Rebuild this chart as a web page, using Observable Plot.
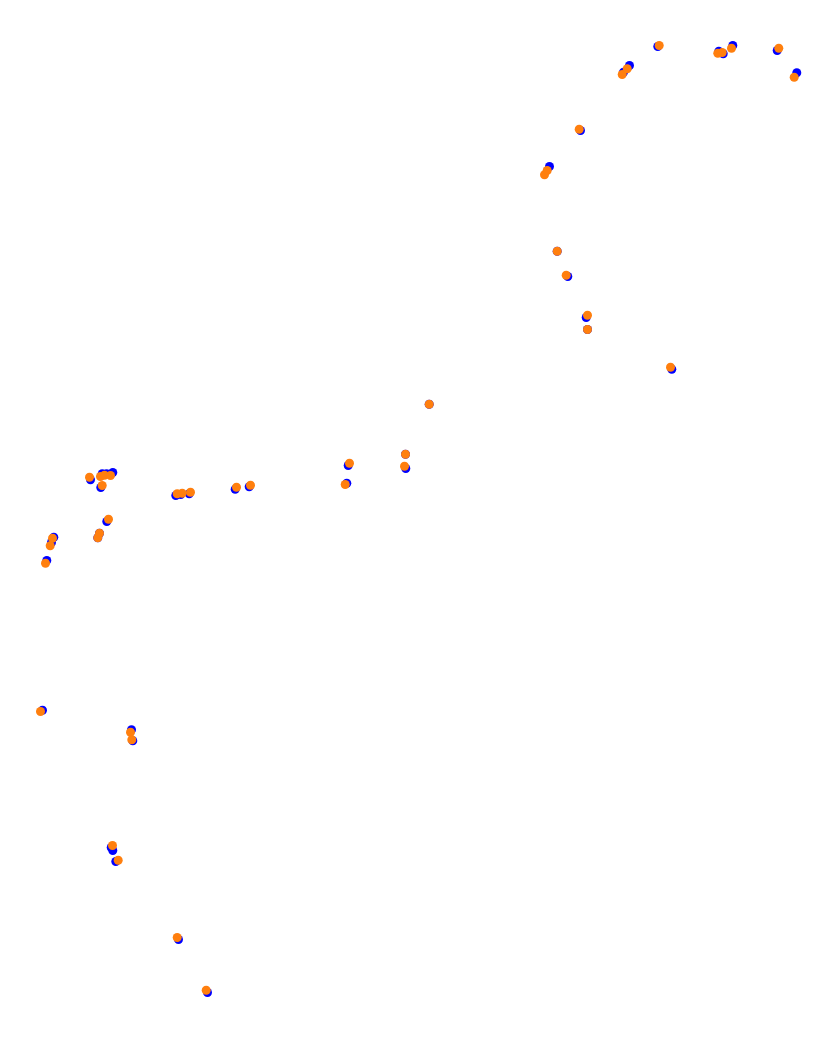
<!DOCTYPE html>
<html>
<head>
<meta charset="utf-8">
<script src="https://cdn.jsdelivr.net/npm/d3@7"></script>
<script src="https://cdn.jsdelivr.net/npm/@observablehq/plot@0.6"></script>
<style>
  html, body { margin: 0; padding: 0; background: #fff; }
  #chart svg { display: block; }
</style>
</head>
<body>
<div id="chart"></div>
<script>
// Series A (blue) positions
const blueX = [623, 629, 657.3, 718.3, 722.7, 732.3, 776.7, 796.3, 580, 549, 556.7, 567.3, 585.7, 587, 671.3,
  428.7, 405, 405.3, 347.7, 346.3, 90, 101.7, 106, 112.3, 100.3, 175.3, 180.3, 188.7, 234.7, 248.7,
  106.3, 99, 97.3, 53.3, 51, 46.3, 42, 131, 132.3, 110.7, 112.3, 115.3, 178, 207];
const blueY = [71.7, 65, 46, 50.7, 53.3, 45, 50, 72.3, 130, 166, 250.7, 276, 317, 329, 368.7,
  403.7, 453.7, 468, 465, 482.7, 479.3, 473.3, 473.3, 472, 487, 495, 494, 493.3, 488.7, 486.3,
  521, 532.7, 537.3, 536.7, 542, 560, 709.7, 729.3, 740.3, 847, 850, 861, 939, 992];

// Series B (orange) positions
const orangeX = [621.7, 626.7, 658.7, 717.3, 721.7, 731, 778.3, 793.7, 578.7, 544, 546.7, 556.7, 565.7, 587, 587, 670,
  428.7, 405, 404, 349, 344.7, 89, 100, 104, 110, 101.7, 176.7, 181.7, 190, 236, 250,
  108, 99, 97.3, 52, 49.7, 45, 40, 130, 131.3, 112, 117.7, 176.7, 205.7];
const orangeY = [74, 68.3, 45, 52.7, 52, 47.7, 47.7, 76.7, 128.7, 174.3, 170, 250.7, 274.7, 314.7, 329, 366.7,
  403.7, 453.7, 465.7, 462.7, 484, 476.7, 476, 474.7, 475, 485, 493.3, 492.7, 491.7, 486.7, 484.7,
  518.7, 532.7, 537.3, 537.7, 545.3, 562.7, 711, 731.7, 739.3, 845, 859.7, 937, 989.7];

const blue = blueX.map((x, i) => ({x, y: blueY[i]}));
const orange = orangeX.map((x, i) => ({x, y: orangeY[i]}));

const chart = Plot.plot({
  width: 831,
  height: 1039,
  margin: 0,
  x: {domain: [0, 831], range: [0, 831], axis: null},
  y: {domain: [0, 1039], range: [0, 1039], axis: null},
  marks: [
    Plot.dot(blue, {x: "x", y: "y", r: 4.5, fill: "#0000ff", stroke: "none"}),
    Plot.dot(orange, {x: "x", y: "y", r: 4.5, fill: "#ff7f0e", stroke: "none"})
  ]
});
document.getElementById("chart").appendChild(chart);
</script>
</body>
</html>
